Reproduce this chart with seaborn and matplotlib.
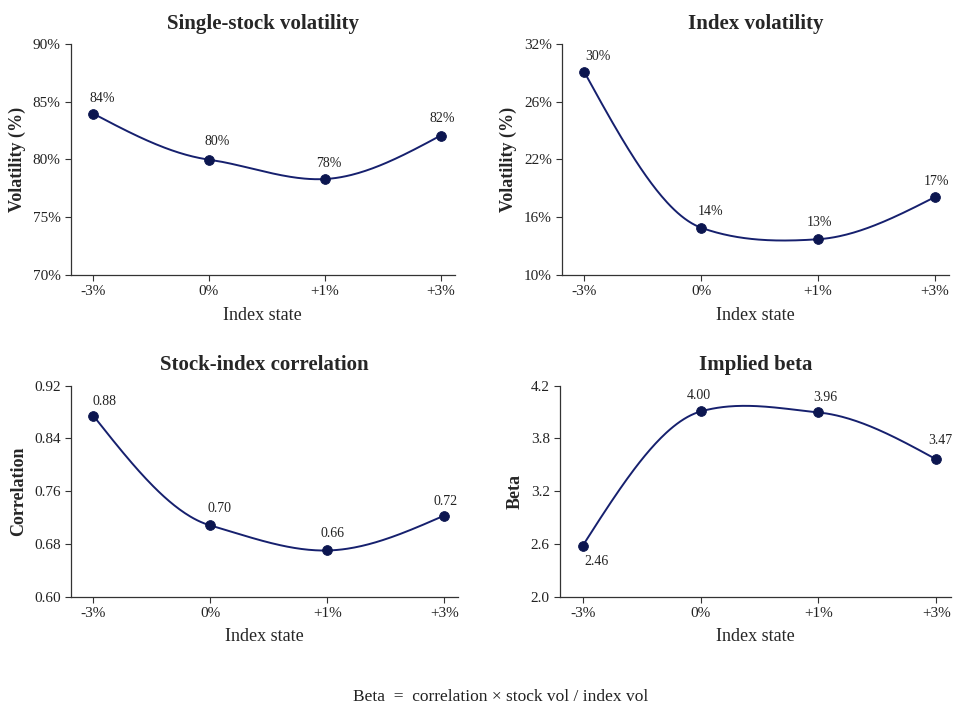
import numpy as np
import pandas as pd
import seaborn as sns
from matplotlib import pyplot as plt

# index state scenarios
states = ['-3%', '0%', '+1%', '+3%']

# values as drawn, and the labels printed next to them
stock_vol = [83.97, 79.98, 78.3, 82.06]
stock_vol_labels = ['84%', '80%', '78%', '82%']
index_vol = [29.3, 14.5, 13.4, 17.4]
index_vol_labels = ['30%', '14%', '13%', '17%']
correlation = [0.8745, 0.708, 0.670, 0.723]
correlation_labels = ['0.88', '0.70', '0.66', '0.72']
beta = [2.53, 3.93, 3.92, 3.43]
beta_labels = ['2.46', '4.00', '3.96', '3.47']

# y tick labels (evenly spaced on the axis, as printed)
stock_ticks = ['70%', '75%', '80%', '85%', '90%']
index_ticks = ['10%', '16%', '22%', '26%', '32%']
corr_ticks = ['0.60', '0.68', '0.76', '0.84', '0.92']
beta_ticks = ['2.0', '2.6', '3.2', '3.8', '4.2']

sns.set_style('white')
plt.rcParams['font.family'] = ['Liberation Serif', 'DejaVu Serif']

navy = '#16206e'
dot = '#0c1650'


def smooth(y, tension=0.5, n=200):
    # cardinal spline through equally spaced points, natural-ish ends
    y = np.asarray(y, dtype=float)
    k = len(y)
    m = np.zeros(k)
    for i in range(1, k - 1):
        m[i] = (1 - tension) * (y[i + 1] - y[i - 1]) / 2
    m[0] = (3 * (y[1] - y[0]) - m[1]) / 2
    m[-1] = (3 * (y[-1] - y[-2]) - m[-2]) / 2
    xs = np.linspace(0, k - 1, n)
    idx = np.minimum(xs.astype(int), k - 2)
    t = xs - idx
    h00 = 2 * t**3 - 3 * t**2 + 1
    h10 = t**3 - 2 * t**2 + t
    h01 = -2 * t**3 + 3 * t**2
    h11 = t**3 - t**2
    ys = h00 * y[idx] + h10 * m[idx] + h01 * y[idx + 1] + h11 * m[idx + 1]
    return xs, ys


panels = [
    ('Single-stock volatility', 'Volatility (%)', stock_vol, stock_vol_labels,
     (70, 90), stock_ticks, [(6.5, 11), (6, 13), (3, 11.5), (1.5, 12)]),
    ('Index volatility', 'Volatility (%)', index_vol, index_vol_labels,
     (10, 32), index_ticks, [(10, 11.5), (6.5, 12), (1.5, 12), (1, 11)]),
    ('Stock-index correlation', 'Correlation', correlation, correlation_labels,
     (0.60, 0.92), corr_ticks, [(8, 10), (7, 12), (3.5, 12), (1, 10)]),
    ('Implied beta', 'Beta', beta, beta_labels,
     (2.0, 4.2), beta_ticks, [(10, -11.5), (-1.5, 11.5), (5, 11), (3, 14)]),
]

positions = [
    [0.0735, 0.617, 0.397, 0.322],
    [0.582, 0.617, 0.400, 0.322],
    [0.0735, 0.169, 0.401, 0.294],
    [0.580, 0.169, 0.404, 0.294],
]

fig, axes = plt.subplots(2, 2, figsize=(9.66, 7.18), dpi=100)

for ax, pos, (title, ylabel, vals, labels, ylim, yticklabels, offs) in zip(axes.flat, positions, panels):
    ax.set_position(pos)
    df = pd.DataFrame({'state': states, 'pos': range(len(states)), 'value': vals})
    xs, ys = smooth(vals)
    ax.plot(xs, ys, color=navy, lw=1.4, zorder=2)
    sns.scatterplot(data=df, x='pos', y='value', ax=ax, color=dot, s=50,
                    edgecolor=dot, zorder=3, legend=False)
    for x, y, lab, off in zip(df['pos'], df['value'], labels, offs):
        ax.annotate(lab, (x, y), xytext=off, textcoords='offset points',
                    ha='center', va='center', fontsize=10, color='#222222')
    ax.set_xlim(-0.19, 3.12)
    ax.set_ylim(*ylim)
    ax.set_xticks(range(len(states)))
    ax.set_xticklabels(states)
    ax.set_yticks(np.linspace(ylim[0], ylim[1], len(yticklabels)))
    ax.set_yticklabels(yticklabels)
    ax.set_title(title, fontsize=15, fontweight='bold', pad=11)
    ax.set_xlabel('Index state', fontsize=13, labelpad=6)
    ax.set_ylabel(ylabel, fontsize=13, fontweight='bold', labelpad=5)
    ax.tick_params(axis='both', labelsize=11, length=4, width=0.8,
                   color='#333333', labelcolor='#222222', bottom=True, left=True)
    sns.despine(ax=ax)
    for s in ['left', 'bottom']:
        ax.spines[s].set_color('#333333')
        ax.spines[s].set_linewidth(0.9)

fig.text(0.518, 0.029, 'Beta  =  correlation × stock vol / index vol',
         ha='center', va='center', fontsize=12.5, color='#222222')

fig.savefig('out.png', dpi=100)
